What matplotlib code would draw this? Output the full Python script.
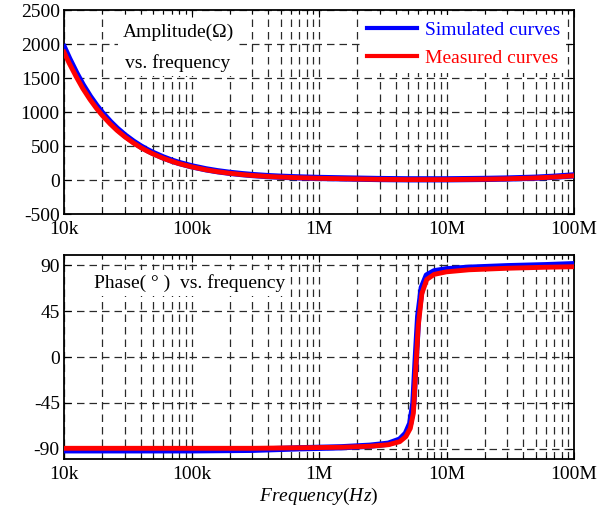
import matplotlib
matplotlib.use("Agg")
import matplotlib.pyplot as plt
from matplotlib.ticker import FixedLocator, LogLocator, NullFormatter, FixedFormatter
import numpy as np

plt.rcParams['font.family'] = ['Liberation Serif', 'DejaVu Serif']
plt.rcParams['mathtext.fontset'] = 'custom'
plt.rcParams['mathtext.rm'] = 'Liberation Serif'
plt.rcParams['mathtext.it'] = 'Liberation Serif:italic'
plt.rcParams['axes.unicode_minus'] = False

# Amplitude panel
freq_amp = [1e4, 1.1e4, 1.25e4, 1.4e4, 1.6e4, 1.8e4, 2e4, 2.3e4, 2.6e4, 3e4, 3.5e4,
            4e4, 4.5e4, 5e4, 6e4, 7e4, 8e4, 1e5, 1.3e5, 1.6e5, 2e5, 2.5e5, 3e5,
            4e5, 5e5, 7e5, 1e6, 2e6, 3e6, 5e6, 1e7, 2e7, 3e7, 5e7, 7e7, 1e8]
amp_sim = [1950, 1780, 1570, 1400, 1225, 1090, 982, 855, 757, 657, 564,
           494, 440, 397, 332, 285, 250, 202, 157, 129, 105, 86, 73,
           57, 48, 38, 30, 20, 14, 10, 10, 16, 22, 34, 48, 68]
amp_meas = [1880, 1715, 1515, 1350, 1183, 1052, 948, 826, 731, 635, 545,
            477, 425, 383, 320, 275, 241, 194, 150, 122, 99, 80, 67,
            52, 43, 33, 25, 15, 10, 6, 6, 12, 18, 30, 44, 62]

# Phase panel
freq_ph = [1e4, 1e5, 3e5, 7e5, 1.5e6, 2.5e6, 3.5e6, 4.3e6, 4.8e6, 5.2e6, 5.5e6,
           5.75e6, 6.0e6, 6.4e6, 7e6, 8e6, 1e7, 1.5e7, 3e7, 6e7, 1e8]
ph_sim = [-91.5, -91.5, -91, -89.5, -88.5, -87, -85, -81, -75, -65, -45,
          0, 40, 68, 80, 84, 86, 87.5, 89, 90, 91]
ph_meas = [-89.5, -89.5, -89.5, -89, -88.5, -87.5, -86, -83, -78, -70, -55,
           -10, 30, 62, 76, 81, 83.5, 85.5, 87, 88, 88.5]

xticks = [1e4, 1e5, 1e6, 1e7, 1e8]
xticklabels = ['10k', '100k', '1M', '10M', '100M']
amp_ticks = [-500, 0, 500, 1000, 1500, 2000, 2500]
ph_ticks = [-90, -45, 0, 45, 90]

fig = plt.figure(figsize=(6.13, 5.18), dpi=100)
ax1 = fig.add_axes([64/613, 1-214/518, 510/613, 204/518])
ax2 = fig.add_axes([64/613, 1-459/518, 510/613, 204/518])

FS = 14
grid_kw = dict(color='#2a2a2a', linestyle=(0, (6, 4)), linewidth=0.9)

for ax in (ax1, ax2):
    ax.set_xscale('log')
    ax.set_xlim(1e4, 1e8)
    ax.xaxis.set_major_locator(FixedLocator(xticks))
    ax.xaxis.set_major_formatter(FixedFormatter(xticklabels))
    ax.xaxis.set_minor_locator(LogLocator(base=10, subs=np.arange(2, 10), numticks=20))
    ax.xaxis.set_minor_formatter(NullFormatter())
    ax.grid(True, which='major', **grid_kw)
    ax.grid(True, which='minor', axis='x', **grid_kw)
    ax.tick_params(which='both', direction='in', top=True, right=True, labelsize=FS, pad=3)
    ax.tick_params(axis='x', which='major', pad=5)
    ax.tick_params(which='major', length=5)
    ax.tick_params(which='minor', length=3)
    for s in ax.spines.values():
        s.set_linewidth(1.3)
    ax.set_axisbelow(True)

ax1.plot(freq_amp, amp_sim, color='#0000ff', lw=4.5, label='Simulated curves', zorder=3)
ax1.plot(freq_amp, amp_meas, color='#ff0000', lw=3.5, label='Measured curves', zorder=4)
ax1.set_ylim(-500, 2500)
ax1.set_yticks(amp_ticks)

ax2.plot(freq_ph, ph_sim, color='#0000ff', lw=4.5, zorder=3)
ax2.plot(freq_ph, ph_meas, color='#ff0000', lw=3.5, zorder=4)
ax2.set_ylim(-100, 100)
ax2.set_yticks(ph_ticks)

leg = ax1.legend(loc='upper right', bbox_to_anchor=(0.985, 0.975), fontsize=FS,
                 frameon=True, fancybox=False, handlelength=2.6, handletextpad=0.4,
                 borderaxespad=0.0, labelspacing=0.55, borderpad=0.3)
leg.get_frame().set_edgecolor('none')
leg.get_frame().set_facecolor('white')
leg.get_frame().set_alpha(1)
for line in leg.get_lines():
    line.set_linewidth(3)
for t, c in zip(leg.get_texts(), ['#0000ff', '#ff0000']):
    t.set_color(c)

ax1.text(0.2235, 0.935, 'Amplitude(Ω)\nvs. frequency',
         transform=ax1.transAxes, fontsize=FS,
         ha='center', va='top', linespacing=1.95,
         bbox=dict(facecolor='white', edgecolor='none', pad=3))
ax2.text(0.247, 0.863, 'Phase( ° )  vs. frequency', transform=ax2.transAxes,
         fontsize=FS, ha='center', va='center',
         bbox=dict(facecolor='white', edgecolor='none', pad=3))

ax2.set_xlabel(r'$\mathit{Frequency}\mathrm{(}\mathit{Hz}\mathrm{)}$', fontsize=FS, labelpad=2)

fig.savefig('out.png', dpi=100)
